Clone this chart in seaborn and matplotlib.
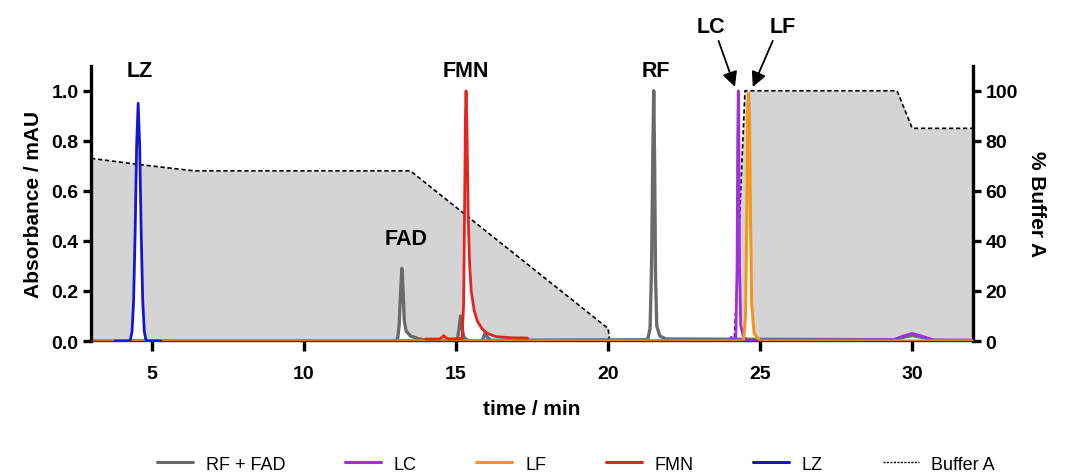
import numpy as np
import pandas as pd
import matplotlib
matplotlib.use("Agg")
import matplotlib.pyplot as plt
from matplotlib.lines import Line2D
import seaborn as sns

# ---------------- data ----------------
# RF + FAD trace (grey)
rffad_t = [3.0, 13.0, 13.08, 13.13, 13.18, 13.22, 13.26, 13.30, 13.36, 13.5, 13.8, 14.2,
           14.95, 15.05, 15.10, 15.15, 15.20, 15.26, 15.35, 15.5, 15.85, 15.92, 15.97, 16.03,
           16.15, 21.30, 21.38, 21.43, 21.47, 21.50, 21.53, 21.56, 21.60, 21.70, 21.90,
           29.4, 29.7, 30.0, 30.3, 30.7, 32.0]
rffad_y = [0.0, 0.0, 0.01, 0.06, 0.20, 0.29, 0.20, 0.08, 0.04, 0.02, 0.008, 0.0,
           0.0, 0.01, 0.05, 0.10, 0.05, 0.015, 0.005, 0.0, 0.0, 0.02, 0.035, 0.015,
           0.003, 0.005, 0.05, 0.30, 0.75, 1.0, 0.70, 0.25, 0.06, 0.02, 0.008,
           0.005, 0.015, 0.022, 0.015, 0.003, 0.0]
# LC trace (purple)
lc_t = [3.0, 23.9, 24.0, 24.05, 24.1, 24.2, 24.24, 24.26, 24.28, 24.30, 24.32, 24.36,
        24.45, 24.6, 29.4, 29.7, 30.0, 30.3, 30.7, 32.0]
lc_y = [0.002, 0.002, 0.005, 0.015, 0.005, 0.01, 0.3, 0.8, 1.0, 0.8, 0.3, 0.06,
        0.015, 0.003, 0.005, 0.02, 0.03, 0.02, 0.004, 0.004]
# LF trace (orange)
lf_t = [3.0, 24.45, 24.52, 24.56, 24.59, 24.62, 24.65, 24.68, 24.72, 24.8, 25.0, 32.0]
lf_y = [0.0, 0.0, 0.1, 0.5, 0.9, 0.99, 0.9, 0.5, 0.15, 0.03, 0.0, 0.0]
# FMN trace (red)
fmn_t = [14.0, 14.45, 14.55, 14.6, 14.65, 14.75, 15.2, 15.25, 15.28, 15.31, 15.33, 15.36,
         15.40, 15.45, 15.5, 15.6, 15.7, 15.85, 16.0, 16.3, 16.8, 17.35]
fmn_y = [0.008, 0.008, 0.015, 0.022, 0.015, 0.008, 0.01, 0.15, 0.5, 0.9, 1.0, 0.85,
         0.5, 0.3, 0.2, 0.12, 0.08, 0.05, 0.032, 0.018, 0.013, 0.012]
# LZ trace (blue)
lz_t = [3.8, 4.25, 4.30, 4.35, 4.40, 4.45, 4.50, 4.55, 4.60, 4.65, 4.70, 4.75, 4.80, 4.85, 5.3]
lz_y = [0.0, 0.0, 0.007, 0.04, 0.16, 0.43, 0.78, 0.95, 0.78, 0.43, 0.16, 0.04, 0.007, 0.0, 0.0]
# Buffer A gradient (% on right axis)
buffer_t = [3.0, 4.6, 6.4, 13.5, 20.0, 20.05, 24.15, 24.5, 29.5, 30.0, 32.0]
buffer_pct = [73, 70.5, 68, 68, 5, 0, 0, 100, 100, 85, 85]

series_names = ["RF + FAD", "LC", "LF", "FMN", "LZ"]
series_colors = ["#6a6a6a", "#a32ee0", "#f7941d", "#e8231e", "#1414d2"]

x_ticks = [5, 10, 15, 20, 25, 30]
y_ticks = [0.0, 0.2, 0.4, 0.6, 0.8, 1.0]
y2_ticks = [0, 20, 40, 60, 80, 100]

# ---------------- styling ----------------
sns.set_style("ticks")
plt.rcParams["font.family"] = ["Liberation Sans", "DejaVu Sans"]
plt.rcParams["text.color"] = "black"
plt.rcParams["axes.labelcolor"] = "black"
plt.rcParams["xtick.color"] = "black"
plt.rcParams["ytick.color"] = "black"

fig = plt.figure(figsize=(10.67, 4.77), dpi=100)
ax = fig.add_axes([0.0853, 0.283, 0.8267, 0.577])
ax2 = ax.twinx()
ax.set_zorder(ax2.get_zorder() + 1)
ax.patch.set_visible(False)

# Buffer A (filled area + dashed line) on right axis
ax2.fill_between(buffer_t, buffer_pct, 0, color="#d4d4d4", lw=0)
sns.lineplot(x=buffer_t, y=buffer_pct, ax=ax2, color="black", lw=1.2,
             linestyle=(0, (2.6, 1.6)), legend=False)

# traces on left axis
traces = [(rffad_t, rffad_y), (lc_t, lc_y), (lf_t, lf_y), (fmn_t, fmn_y), (lz_t, lz_y)]
widths = [2.4, 2.0, 2.2, 2.0, 2.0]
for (t, y), c in zip(traces, series_colors):
    ax.fill_between(t, y, 0, color="white", lw=0)
for (t, y), c, w in zip(traces, series_colors, widths):
    sns.lineplot(x=t, y=y, ax=ax, color=c, lw=w, legend=False)

ax.set_xlim(3, 32)
ax.set_ylim(0, 1.1)
ax2.set_ylim(0, 110)

ax.set_xticks(x_ticks)
ax.set_yticks(y_ticks)
ax.set_yticklabels([f"{v:.1f}" for v in y_ticks])
ax2.set_yticks(y2_ticks)

for a in (ax, ax2):
    a.spines["top"].set_visible(False)
    for s in ("left", "right"):
        a.spines[s].set_linewidth(2.4)
        a.spines[s].set_color("black")
    a.spines["bottom"].set_linewidth(1.0)
    a.spines["bottom"].set_color("#333333")
ax.spines["right"].set_visible(False)
ax2.spines["left"].set_visible(False)
ax2.spines["bottom"].set_visible(False)

ax.tick_params(axis="y", which="major", length=6, width=2.4, color="black",
               labelsize=14, pad=3)
ax.tick_params(axis="x", which="major", length=7.5, width=2.4, color="black",
               labelsize=14, pad=10)
ax2.tick_params(axis="y", which="major", length=6, width=2.4, color="black",
                labelsize=14, pad=3)
for lab in ax.get_xticklabels() + ax.get_yticklabels() + ax2.get_yticklabels():
    lab.set_fontweight("bold")

ax.set_xlabel("time / min", fontsize=15, fontweight="bold", labelpad=12)
ax.set_ylabel("Absorbance / mAU", fontsize=15, fontweight="bold", labelpad=6)
ax2.set_ylabel("% Buffer A", fontsize=15, fontweight="bold", rotation=270, labelpad=20)

# peak labels
lab_kw = dict(fontsize=15.5, fontweight="bold", ha="center", va="center")
ax.text(4.6, 1.08, "LZ", **lab_kw)
ax.text(15.33, 1.08, "FMN", **lab_kw)
ax.text(21.56, 1.08, "RF", **lab_kw)
ax.text(13.35, 0.41, "FAD", **lab_kw)
ax.text(23.37, 1.255, "LC", clip_on=False, **lab_kw)
ax.text(25.73, 1.255, "LF", clip_on=False, **lab_kw)
arrow_kw = dict(arrowstyle="-|>,head_length=0.9,head_width=0.45", color="black", lw=1.3)
ax.annotate("", xy=(24.2, 1.005), xytext=(23.6, 1.21), arrowprops=arrow_kw,
            annotation_clip=False)
ax.annotate("", xy=(24.72, 1.005), xytext=(25.45, 1.21), arrowprops=arrow_kw,
            annotation_clip=False)

# legend
handles = [Line2D([], [], color=c, lw=2.2) for c in series_colors]
handles.append(Line2D([], [], color="black", lw=1.0, linestyle=(0, (1.5, 1.0))))
labels = series_names + ["Buffer A"]
fig.legend(handles, labels, loc="center", bbox_to_anchor=(0.54, 0.025), ncol=6,
           frameon=False, fontsize=13, handlelength=2.0, handletextpad=0.7,
           columnspacing=3.3)

fig.savefig("out.png", dpi=100)
